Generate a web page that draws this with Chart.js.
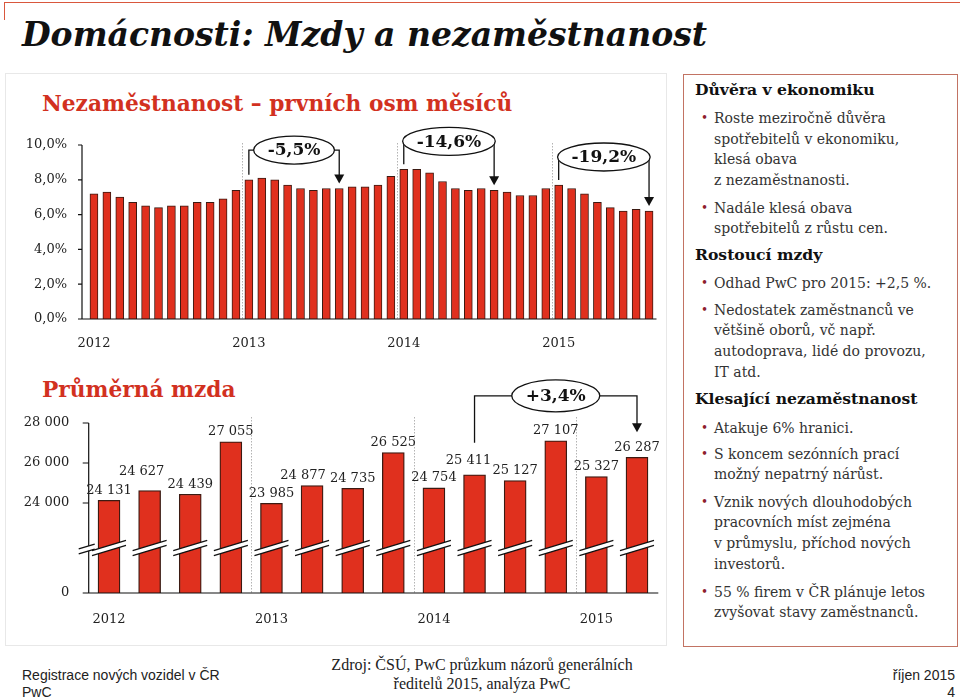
<!DOCTYPE html>
<html lang="cs">
<head>
<meta charset="utf-8">
<title>Domácnosti: Mzdy a nezaměstnanost</title>
<script src="https://cdn.jsdelivr.net/npm/chart.js@4.4.1/dist/chart.umd.min.js"></script>
<style>
  body { margin: 0; background: #fff; }
  #slide { position: relative; width: 960px; height: 697px; overflow: hidden; font-family: "DejaVu Serif", serif; color: #222; }
  .t { position: absolute; white-space: nowrap; }
  .topline { position: absolute; left: 5px; top: 2px; width: 955px; height: 0; border-top: 1.5px solid #d9573d; }
  .topline-tick { position: absolute; left: 4px; top: 2px; width: 0; height: 18px; border-left: 1.5px solid #d9573d; }
  .panel { position: absolute; left: 5px; top: 73px; width: 660px; height: 571px; border: 1px solid #e8e8e8; }
  .box { position: absolute; left: 683px; top: 74px; width: 273px; height: 571px; border: 1px solid #c27363; }
  .title { left: 22px; top: 14px; font: italic bold 33px/42px "DejaVu Serif", serif; color: #111; }
  .sub { left: 42px; font: bold 21.7px/26px "DejaVu Serif", serif; color: #d2311f; }
  .hd { left: 695px; font: bold 15.6px/20.6px "DejaVu Serif", serif; color: #111; }
  .it { left: 714px; font: 14px/20.6px "DejaVu Serif", serif; color: #333; }
  .it::before { content: "•"; position: absolute; left: -13px; color: #8e1f2e; font-size: 12px; }
  .foot { font: 14px/17px "Liberation Sans", Arial, sans-serif; color: #222; }
  .src { left: 282px; width: 400px; text-align: center; font: 16px/19px "Liberation Serif", serif; color: #222; }
  canvas { position: absolute; left: 0; }
</style>
</head>
<body>
<div id="slide">
  <div class="topline"></div>
  <div class="topline-tick"></div>
  <div class="t title">Domácnosti: Mzdy a nezaměstnanost</div>
  <div class="panel"></div>
  <div class="box"></div>

  <div class="t sub" style="top:90.5px">Nezaměstnanost – prvních osm měsíců</div>
  <div class="t sub" style="top:376.5px">Průměrná mzda</div>

  <div class="t hd" style="top:80.3px">Důvěra v ekonomiku</div>
  <div class="t it" style="top:108.2px">Roste meziročně důvěra<br>spotřebitelů v ekonomiku,<br>klesá obava<br>z nezaměstnanosti.</div>
  <div class="t it" style="top:197.5px">Nadále klesá obava<br>spotřebitelů z růstu cen.</div>
  <div class="t hd" style="top:245px">Rostoucí mzdy</div>
  <div class="t it" style="top:272.8px">Odhad PwC pro 2015: +2,5 %.</div>
  <div class="t it" style="top:299.9px">Nedostatek zaměstnanců ve<br>většině oborů, vč např.<br>autodoprava, lidé do provozu,<br>IT atd.</div>
  <div class="t hd" style="top:389.3px">Klesající nezaměstnanost</div>
  <div class="t it" style="top:417.5px">Atakuje 6% hranici.</div>
  <div class="t it" style="top:443.9px">S koncem sezónních prací<br>možný nepatrný nárůst.</div>
  <div class="t it" style="top:491.9px">Vznik nových dlouhodobých<br>pracovních míst zejména<br>v průmyslu, příchod nových<br>investorů.</div>
  <div class="t it" style="top:581.5px">55 % firem v ČR plánuje letos<br>zvyšovat stavy zaměstnanců.</div>

  <div class="t foot" style="left:22px;top:666.6px">Registrace nových vozidel v ČR<br>PwC</div>
  <div class="t src" style="top:655.4px">Zdroj: ČSÚ, PwC průzkum názorů generálních<br>ředitelů 2015, analýza PwC</div>
  <div class="t foot" style="right:5px;top:666.6px;text-align:right">říjen 2015<br>4</div>

  <canvas id="unemp" width="660" height="240" style="top:120px"></canvas>
  <canvas id="wage" width="660" height="264" style="top:370px"></canvas>
</div>

<script>
// Unemployment rate (share of unemployed persons), monthly
const unempMonths = [
  '2012-01', '2012-02', '2012-03', '2012-04', '2012-05', '2012-06', '2012-07', '2012-08', '2012-09', '2012-10', '2012-11', '2012-12',
  '2013-01', '2013-02', '2013-03', '2013-04', '2013-05', '2013-06', '2013-07', '2013-08', '2013-09', '2013-10', '2013-11', '2013-12',
  '2014-01', '2014-02', '2014-03', '2014-04', '2014-05', '2014-06', '2014-07', '2014-08', '2014-09', '2014-10', '2014-11', '2014-12',
  '2015-01', '2015-02', '2015-03', '2015-04', '2015-05', '2015-06', '2015-07', '2015-08'
];
const unempRate = [
  7.2, 7.3, 7.0, 6.7, 6.5, 6.4, 6.5, 6.5, 6.7, 6.7, 6.9, 7.4,
  8.0, 8.1, 8.0, 7.7, 7.5, 7.4, 7.5, 7.5, 7.6, 7.6, 7.7, 8.2,
  8.6, 8.6, 8.4, 7.9, 7.5, 7.4, 7.5, 7.4, 7.3, 7.1, 7.1, 7.5,
  7.7, 7.5, 7.2, 6.7, 6.4, 6.2, 6.3, 6.2
];
const unempTickValues = [0, 2, 4, 6, 8, 10];
const unempTickLabels = ['0,0%', '2,0%', '4,0%', '6,0%', '8,0%', '10,0%'];
const unempChanges = [
  { label: '-5,5%', from: '2013-01', to: '2013-08' },
  { label: '-14,6%', from: '2014-01', to: '2014-08' },
  { label: '-19,2%', from: '2015-01', to: '2015-08' }
];

// Average wage, quarterly (CZK)
const wageQuarters = [
  '2012 Q1', '2012 Q2', '2012 Q3', '2012 Q4',
  '2013 Q1', '2013 Q2', '2013 Q3', '2013 Q4',
  '2014 Q1', '2014 Q2', '2014 Q3', '2014 Q4',
  '2015 Q1', '2015 Q2'
];
const wageValues = [
  24131, 24627, 24439, 27055,
  23985, 24877, 24735, 26525,
  24754, 25411, 25127, 27107,
  25327, 26287
];
const wageTickValues = [19500, 24000, 26000, 28000]; // 19500 = broken axis floor, shown as 0
const wageTickLabels = ['0', '24 000', '26 000', '28 000'];
const wageChanges = [{ label: '+3,4%', from: '2014 Q2', to: '2015 Q2' }];

// label nudges (px) to follow the slide's hand placement
const wageLabelShift = [[0, 0], [-8, -9], [0, 0], [0, 0], [0, 0], [-9, 0], [0, 0], [0, 0], [0, 0], [-6, -4], [0, 0], [0, 0], [0, 0], [0, 0]];
const wageBreakAt = 21750;

const RED = '#e0301e';
const EDGE = '#3b1a12';
const INK = '#222';
const SERIF = '"DejaVu Serif", serif';

function yearStarts(labels) {
  return labels.map((l, i) => i).filter(i => i > 0 && labels[i].slice(0, 4) !== labels[i - 1].slice(0, 4));
}

function drawSeparators(chart, labels, lift) {
  const { ctx, chartArea: a, scales: { x } } = chart;
  ctx.save();
  ctx.strokeStyle = '#b3b3b3';
  ctx.lineWidth = 1;
  ctx.setLineDash([1.5, 1.5]);
  yearStarts(labels).forEach(i => {
    const px = Math.round((x.getPixelForValue(i - 1) + x.getPixelForValue(i)) / 2) + 0.5;
    ctx.beginPath();
    ctx.moveTo(px, a.top - lift);
    ctx.lineTo(px, a.bottom);
    ctx.stroke();
  });
  ctx.restore();
}

function drawAxes(chart, axisX, tickLen, tickValues) {
  const { ctx, chartArea: a, scales: { y } } = chart;
  ctx.save();
  ctx.strokeStyle = '#111';
  ctx.lineWidth = 1.2;
  ctx.beginPath();
  ctx.moveTo(axisX, y.getPixelForValue(tickValues[tickValues.length - 1]));
  ctx.lineTo(axisX, a.bottom);
  ctx.lineTo(a.right + 1, a.bottom);
  tickValues.forEach(v => {
    const py = y.getPixelForValue(v);
    ctx.moveTo(axisX - tickLen, py);
    ctx.lineTo(axisX, py);
  });
  ctx.stroke();
  ctx.restore();
}

function drawChange(chart, labels, ch, o) {
  const { ctx } = chart;
  const bars = chart.getDatasetMeta(0).data;
  const i1 = labels.indexOf(ch.from), i2 = labels.indexOf(ch.to);
  const b1 = bars[i1], b2 = bars[i2];
  let topMost = Infinity;
  for (let i = i1; i <= i2; i++) topMost = Math.min(topMost, bars[i].y);
  const cx = (b1.x + b2.x) / 2, cy = topMost - o.lift;
  const y1 = b1.y - o.startGap, y2 = b2.y - o.tipGap;
  ctx.save();
  ctx.font = 'bold ' + o.size + 'px ' + SERIF;
  const rx = ctx.measureText(ch.label).width / 2 + 14;
  ctx.strokeStyle = '#111';
  ctx.fillStyle = '#111';
  ctx.lineWidth = 1.3;
  ctx.beginPath();
  ctx.moveTo(b1.x, y1);
  ctx.lineTo(b1.x, cy);
  ctx.lineTo(b2.x, cy);
  ctx.lineTo(b2.x, y2 - 8);
  ctx.stroke();
  ctx.beginPath();
  ctx.moveTo(b2.x - 5, y2 - 9);
  ctx.lineTo(b2.x + 5, y2 - 9);
  ctx.lineTo(b2.x, y2);
  ctx.closePath();
  ctx.fill();
  ctx.beginPath();
  ctx.ellipse(cx, cy, rx, o.ry, 0, 0, Math.PI * 2);
  ctx.fillStyle = '#fff';
  ctx.fill();
  ctx.stroke();
  ctx.fillStyle = '#111';
  ctx.textAlign = 'center';
  ctx.textBaseline = 'middle';
  ctx.fillText(ch.label, cx, cy + 1);
  ctx.restore();
}

function breakMark(ctx, cx, by, half) {
  const s = 0.3, g = 5;
  ctx.beginPath();
  ctx.moveTo(cx - half, by - g / 2 + s * half);
  ctx.lineTo(cx + half, by - g / 2 - s * half);
  ctx.lineTo(cx + half, by + g / 2 - s * half);
  ctx.lineTo(cx - half, by + g / 2 + s * half);
  ctx.closePath();
  ctx.fillStyle = '#fff';
  ctx.fill();
  ctx.beginPath();
  ctx.moveTo(cx - half, by - g / 2 + s * half);
  ctx.lineTo(cx + half, by - g / 2 - s * half);
  ctx.moveTo(cx - half, by + g / 2 + s * half);
  ctx.lineTo(cx + half, by + g / 2 - s * half);
  ctx.strokeStyle = '#111';
  ctx.lineWidth = 1.3;
  ctx.stroke();
}

const fmt = v => String(v).replace(/\B(?=(\d{3})+(?!\d))/g, ' ');

const unempDecor = {
  id: 'unempDecor',
  beforeDatasetsDraw(chart) {
    drawSeparators(chart, unempMonths, 2);
  },
  afterDraw(chart) {
    drawAxes(chart, chart.chartArea.left - 5.5, 4, unempTickValues);
    unempChanges.forEach(ch => drawChange(chart, unempMonths, ch, { lift: 28, startGap: 5, tipGap: 5, size: 17, ry: 14 }));
  }
};

const wageDecor = {
  id: 'wageDecor',
  beforeDatasetsDraw(chart) {
    drawSeparators(chart, wageQuarters, 6);
  },
  afterDraw(chart) {
    const { ctx, scales: { y } } = chart;
    const bars = chart.getDatasetMeta(0).data;
    drawAxes(chart, chart.chartArea.left, 6, wageTickValues);
    const by = y.getPixelForValue(wageBreakAt);
    ctx.save();
    breakMark(ctx, chart.chartArea.left - 2, by + 1, 8);
    bars.forEach(b => breakMark(ctx, b.x, by, 17));
    ctx.font = '13px ' + SERIF;
    ctx.fillStyle = INK;
    ctx.textAlign = 'center';
    ctx.textBaseline = 'middle';
    bars.forEach((b, i) => {
      ctx.fillText(fmt(wageValues[i]), b.x + wageLabelShift[i][0], b.y - 10 + wageLabelShift[i][1]);
    });
    ctx.restore();
    wageChanges.forEach(ch => drawChange(chart, wageQuarters, ch, { lift: 45, startGap: 32, tipGap: 25, size: 17, ry: 16 }));
  }
};

new Chart(document.getElementById('unemp'), {
  type: 'bar',
  data: {
    labels: unempMonths,
    datasets: [{
      data: unempRate,
      backgroundColor: RED,
      borderColor: EDGE,
      borderWidth: 1,
      barThickness: 8
    }]
  },
  options: {
    responsive: false,
    animation: false,
    events: [],
    layout: { padding: { top: 25, right: 4.5, bottom: 0, left: 0 } },
    plugins: { legend: { display: false }, tooltip: { enabled: false } },
    scales: {
      x: {
        grid: { display: false },
        border: { display: false },
        afterFit: s => { s.height = 41; },
        ticks: {
          autoSkip: false, maxRotation: 0, minRotation: 0, padding: 9,
          color: INK, font: { family: SERIF, size: 13 },
          callback: (v, i) => unempMonths[i].slice(5) === '01' ? unempMonths[i].slice(0, 4) : ''
        }
      },
      y: {
        min: 0, max: 10,
        grid: { display: false },
        border: { display: false },
        afterFit: s => { s.width = 87.5; },
        afterBuildTicks: s => { s.ticks = unempTickValues.map(v => ({ value: v })); },
        ticks: {
          padding: 12.5, color: INK, font: { family: SERIF, size: 13 },
          callback: v => unempTickLabels[unempTickValues.indexOf(v)]
        }
      }
    }
  },
  plugins: [unempDecor]
});

new Chart(document.getElementById('wage'), {
  type: 'bar',
  data: {
    labels: wageQuarters,
    datasets: [{
      data: wageValues,
      backgroundColor: RED,
      borderColor: EDGE,
      borderWidth: 1.3,
      barThickness: 22
    }]
  },
  options: {
    responsive: false,
    animation: false,
    events: [],
    layout: { padding: { top: 53, right: 2.7, bottom: 0, left: 0 } },
    plugins: { legend: { display: false }, tooltip: { enabled: false } },
    scales: {
      x: {
        grid: { display: false },
        border: { display: false },
        afterFit: s => { s.height = 41; },
        ticks: {
          autoSkip: false, maxRotation: 0, minRotation: 0, padding: 11,
          color: INK, font: { family: SERIF, size: 13 },
          callback: (v, i) => wageQuarters[i].endsWith('Q1') ? wageQuarters[i].slice(0, 4) : ''
        }
      },
      y: {
        min: 19500, max: 28000,
        grid: { display: false },
        border: { display: false },
        afterFit: s => { s.width = 88.7; },
        afterBuildTicks: s => { s.ticks = wageTickValues.map(v => ({ value: v })); },
        ticks: {
          padding: 11.5, color: INK, font: { family: SERIF, size: 13 },
          callback: v => wageTickLabels[wageTickValues.indexOf(v)]
        }
      }
    }
  },
  plugins: [wageDecor]
});
</script>
</body>
</html>
